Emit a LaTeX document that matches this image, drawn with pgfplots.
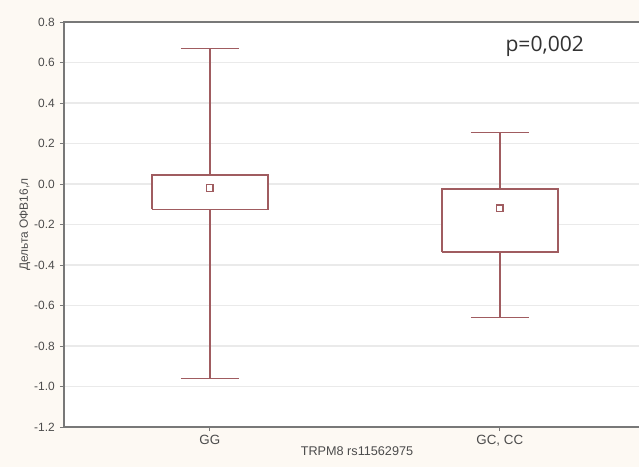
\documentclass[border=0pt]{standalone}
\usepackage{pgfplots}
\pgfplotsset{compat=1.18}
\usepackage{fontspec}
\setmainfont{Liberation Sans}
\newfontfamily\pfont{Open Sans}
\definecolor{bg}{RGB}{253,249,243}
\definecolor{boxc}{RGB}{160,92,96}
\definecolor{gridc}{RGB}{234,234,234}
\definecolor{axc}{RGB}{120,120,120}
\begin{document}
\begin{tikzpicture}
\useasboundingbox (-1.6,-1.0) rectangle (14.375,10.675);
\fill[bg] (-1.6,-1.0) rectangle (14.375,10.675);
\begin{axis}[
  scale only axis,
  width=14.65cm, height=10.125cm,
  at={(0,0)}, anchor=south west,
  xmin=-0.503, xmax=1.518,
  ymin=-1.2, ymax=0.8,
  unbounded coords=jump,
  ytick={-1.2,-1.0,...,0.8},
  yticklabel style={font=\fontsize{8.5}{10}\selectfont\color{black!70},
    /pgf/number format/fixed, /pgf/number format/fixed zerofill,
    /pgf/number format/precision=1, /pgf/number format/assume math mode=true},
  xtick={0,1}, xticklabels={GG,{GC, CC}},
  xticklabel style={font=\fontsize{9.5}{11}\selectfont\color{black!70}, yshift=1pt},
  xtick pos=bottom, ytick pos=left,
  ymajorgrids, grid style={gridc, line width=0.8pt},
  axis line style={axc, line width=1.1pt},
  tick style={axc, line width=0.6pt},
  tick align=outside, major tick length=3pt,
  axis background/.style={fill=white},
  xlabel={TRPM8 rs11562975},
  xlabel style={font=\fontsize{9}{11}\selectfont\color{black!70}, yshift=6pt},
  ylabel={Дельта ОФВ16,л},
  ylabel style={font=\fontsize{8.5}{10}\selectfont\color{black!70}, yshift=-4pt},
  clip=false,
]
% GG: whiskers -0.96..0.67, box -0.125..0.044, mean -0.02
\addplot[boxc, line width=1.1pt, mark=none] coordinates {
  (0,0.044) (0,0.67) (nan,nan) (-0.1,0.67) (0.1,0.67) (nan,nan)
  (0,-0.125) (0,-0.96) (nan,nan) (-0.1,-0.96) (0.1,-0.96)};
\addplot[boxc, line width=1.1pt, mark=none, fill=white] coordinates {
  (-0.2,-0.125) (0.2,-0.125) (0.2,0.044) (-0.2,0.044) (-0.2,-0.125)};
% GC, CC: whiskers -0.66..0.255, box -0.335..-0.025, mean -0.12
\addplot[boxc, line width=1.1pt, mark=none] coordinates {
  (1,-0.025) (1,0.255) (nan,nan) (0.9,0.255) (1.1,0.255) (nan,nan)
  (1,-0.335) (1,-0.66) (nan,nan) (0.9,-0.66) (1.1,-0.66)};
\addplot[boxc, line width=1.1pt, mark=none, fill=white] coordinates {
  (0.8,-0.335) (1.2,-0.335) (1.2,-0.025) (0.8,-0.025) (0.8,-0.335)};
\addplot[only marks, mark=square, mark size=2.3pt, draw=boxc, line width=0.9pt] coordinates {(0,-0.02) (1,-0.12)};
\node[font=\pfont\fontsize{15}{17}\selectfont, text=black!80] at (axis cs:1.155,0.68) {p=0,002};
\end{axis}
\end{tikzpicture}
\end{document}
